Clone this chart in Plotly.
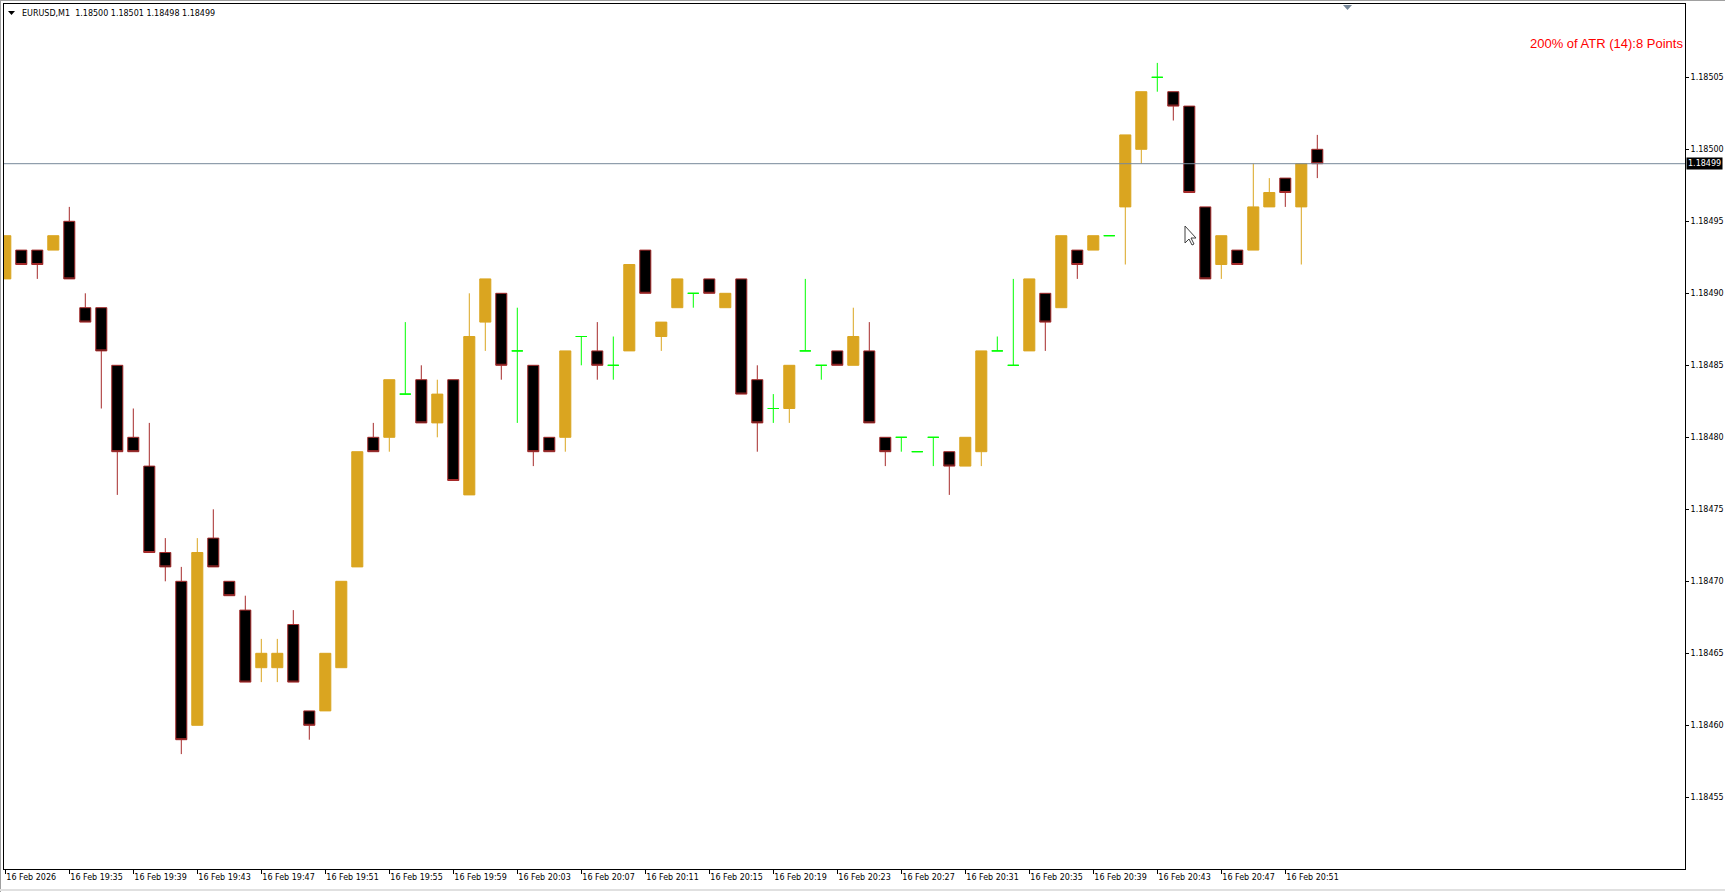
import plotly.graph_objects as go

# ---------------- data (EURUSD M1, 16 Feb 2026 19:31 .. 20:53) ----------------
opens = [1.18491, 1.18493, 1.18493, 1.18493, 1.18495, 1.18489, 1.18489, 1.18485, 1.18480, 1.18478,
         1.18472, 1.18470, 1.18460, 1.18473, 1.18470, 1.18468, 1.18464, 1.18464, 1.18467, 1.18461,
         1.18461, 1.18464, 1.18471, 1.18480, 1.18480, 1.18483, 1.18484, 1.18481, 1.18484, 1.18476,
         1.18488, 1.18490, 1.18486, 1.18485, 1.18480, 1.18480, 1.18487, 1.18486, 1.18485, 1.18486,
         1.18493, 1.18487, 1.18489, 1.18490, 1.18491, 1.18489, 1.18491, 1.18484, 1.18482, 1.18482,
         1.18486, 1.18485, 1.18486, 1.18485, 1.18486, 1.18480, 1.18480, 1.18479, 1.18480, 1.18479,
         1.18478, 1.18479, 1.18486, 1.18485, 1.18486, 1.18490, 1.18489, 1.18493, 1.18493, 1.18494,
         1.18496, 1.18500, 1.18505, 1.18504, 1.18503, 1.18496, 1.18492, 1.18493, 1.18493, 1.18496,
         1.18498, 1.18496, 1.18500]
highs = [1.18494, 1.18493, 1.18493, 1.18494, 1.18496, 1.18490, 1.18489, 1.18485, 1.18482, 1.18481,
         1.18473, 1.18471, 1.18473, 1.18475, 1.18470, 1.18469, 1.18466, 1.18466, 1.18468, 1.18461,
         1.18465, 1.18470, 1.18479, 1.18481, 1.18484, 1.18488, 1.18485, 1.18484, 1.18484, 1.18490,
         1.18491, 1.18490, 1.18489, 1.18485, 1.18480, 1.18486, 1.18487, 1.18488, 1.18487, 1.18492,
         1.18493, 1.18488, 1.18491, 1.18490, 1.18491, 1.18490, 1.18491, 1.18485, 1.18483, 1.18485,
         1.18491, 1.18485, 1.18486, 1.18489, 1.18488, 1.18480, 1.18480, 1.18479, 1.18480, 1.18479,
         1.18480, 1.18486, 1.18487, 1.18491, 1.18491, 1.18490, 1.18494, 1.18493, 1.18494, 1.18494,
         1.18501, 1.18504, 1.18506, 1.18504, 1.18503, 1.18496, 1.18494, 1.18493, 1.18499, 1.18498,
         1.18498, 1.18499, 1.18501]
lows = [1.18491, 1.18492, 1.18491, 1.18493, 1.18491, 1.18488, 1.18482, 1.18476, 1.18479, 1.18472,
        1.18470, 1.18458, 1.18460, 1.18471, 1.18469, 1.18463, 1.18463, 1.18463, 1.18463, 1.18459,
        1.18461, 1.18464, 1.18471, 1.18479, 1.18479, 1.18483, 1.18481, 1.18480, 1.18477, 1.18476,
        1.18486, 1.18484, 1.18481, 1.18478, 1.18479, 1.18479, 1.18485, 1.18484, 1.18484, 1.18486,
        1.18490, 1.18486, 1.18489, 1.18489, 1.18490, 1.18489, 1.18483, 1.18479, 1.18481, 1.18481,
        1.18486, 1.18484, 1.18485, 1.18485, 1.18481, 1.18478, 1.18479, 1.18479, 1.18478, 1.18476,
        1.18478, 1.18478, 1.18486, 1.18485, 1.18486, 1.18486, 1.18489, 1.18491, 1.18493, 1.18494,
        1.18492, 1.18499, 1.18504, 1.18502, 1.18497, 1.18491, 1.18491, 1.18492, 1.18493, 1.18496,
        1.18496, 1.18492, 1.18498]
closes = [1.18494, 1.18492, 1.18492, 1.18494, 1.18491, 1.18488, 1.18486, 1.18479, 1.18479, 1.18472,
          1.18471, 1.18459, 1.18472, 1.18471, 1.18469, 1.18463, 1.18465, 1.18465, 1.18463, 1.18460,
          1.18465, 1.18470, 1.18479, 1.18479, 1.18484, 1.18483, 1.18481, 1.18483, 1.18477, 1.18487,
          1.18491, 1.18485, 1.18486, 1.18479, 1.18479, 1.18486, 1.18487, 1.18485, 1.18485, 1.18492,
          1.18490, 1.18488, 1.18491, 1.18490, 1.18490, 1.18490, 1.18483, 1.18481, 1.18482, 1.18485,
          1.18486, 1.18485, 1.18485, 1.18487, 1.18481, 1.18479, 1.18480, 1.18479, 1.18480, 1.18478,
          1.18480, 1.18486, 1.18486, 1.18485, 1.18491, 1.18488, 1.18494, 1.18492, 1.18494, 1.18494,
          1.18501, 1.18504, 1.18505, 1.18503, 1.18497, 1.18491, 1.18494, 1.18492, 1.18496, 1.18497,
          1.18497, 1.18499, 1.18499]

tick_labels = ["16 Feb 2026", "16 Feb 19:35", "16 Feb 19:39", "16 Feb 19:43", "16 Feb 19:47",
               "16 Feb 19:51", "16 Feb 19:55", "16 Feb 19:59", "16 Feb 20:03", "16 Feb 20:07",
               "16 Feb 20:11", "16 Feb 20:15", "16 Feb 20:19", "16 Feb 20:23", "16 Feb 20:27",
               "16 Feb 20:31", "16 Feb 20:35", "16 Feb 20:39", "16 Feb 20:43", "16 Feb 20:47",
               "16 Feb 20:51"]
tick_step = 4
price_ticks = [1.18455, 1.18460, 1.18465, 1.18470, 1.18475, 1.18480,
               1.18485, 1.18490, 1.18495, 1.18500, 1.18505]
symbol = "EURUSD,M1"
atr_text = "200% of ATR (14):8 Points"

# ---------------- styling ----------------
GOLD = "#DAA520"
BEAR_LINE = "#A52A2A"
DOJI = "#00FF00"
PRICE_LINE = "#778899"
FONT = "DejaVu Sans"

W, H = 1725, 892
ML, MR, MT, MB = 4, 40, 4, 23
PW, PH = W - ML - MR, H - MT - MB
BAR_PX = 16.0       # pixel spacing of one bar
X0_PX = 5.3         # pixel position of the first bar
REF_PRICE, REF_PX, PX_PER_POINT = 1.18500, 149.3, 14.4


def px(x):
    return (x - ML) / PW


def py(y):
    return (MT + PH - y) / PH


def price_at(ypix):
    return REF_PRICE - (ypix - REF_PX) / PX_PER_POINT * 1e-5


idx = list(range(len(opens)))


def subset(cond):
    sel = [i for i in idx if cond(opens[i], closes[i])]
    return (sel, [opens[i] for i in sel], [highs[i] for i in sel],
            [lows[i] for i in sel], [closes[i] for i in sel])


fig = go.Figure()


def add_candles(cond, fill, line):
    x, o, h, l, c = subset(cond)
    fig.add_trace(go.Candlestick(
        x=x, open=o, high=h, low=l, close=c,
        increasing=dict(fillcolor=fill, line=dict(color=line, width=1)),
        decreasing=dict(fillcolor=fill, line=dict(color=line, width=1)),
        whiskerwidth=0, hoverinfo="skip", showlegend=False))


add_candles(lambda o, c: c > o, GOLD, GOLD)
add_candles(lambda o, c: c < o, "#000000", BEAR_LINE)
add_candles(lambda o, c: c == o, DOJI, DOJI)

last_close = closes[-1]

shapes = [
    # current price line
    dict(type="line", xref="paper", yref="y", x0=0, x1=1, y0=last_close, y1=last_close,
         line=dict(color=PRICE_LINE, width=1)),
    # window frame lines
    dict(type="line", xref="paper", yref="paper", x0=px(0.5), x1=px(0.5), y0=py(0), y1=py(892),
         line=dict(color="#a0a0a0", width=1)),
    dict(type="line", xref="paper", yref="paper", x0=px(0), x1=px(1725), y0=py(0.5), y1=py(0.5),
         line=dict(color="#a0a0a0", width=1)),
    dict(type="line", xref="paper", yref="paper", x0=px(0), x1=px(1725), y0=py(890), y1=py(890),
         line=dict(color="#e0e0e0", width=2)),
    # title triangle
    dict(type="path", xref="paper", yref="paper",
         path=f"M {px(8)},{py(11)} L {px(15)},{py(11)} L {px(11.5)},{py(15)} Z",
         fillcolor="#000000", line=dict(width=0)),
    # chart shift marker at top
    dict(type="path", xref="paper", yref="paper",
         path=f"M {px(1343)},{py(5)} L {px(1352)},{py(5)} L {px(1347.5)},{py(10)} Z",
         fillcolor=PRICE_LINE, line=dict(width=0)),
]

# mouse cursor arrow
cx, cy = 1185, 226
cur = [(0, 0), (0, 17), (4, 13), (7, 19), (9, 18), (6, 12), (11, 12)]
path = "M " + " L ".join(f"{px(cx + a)},{py(cy + b)}" for a, b in cur) + " Z"
shapes.append(dict(type="path", xref="paper", yref="paper", path=path,
                   fillcolor="#ffffff", line=dict(color="#404040", width=1)))

title_text = (f"{symbol}\u00a0 {opens[-1]:.5f} {highs[-1]:.5f} "
              f"{lows[-1]:.5f} {closes[-1]:.5f}")

annotations = [
    dict(text=title_text, xref="paper", yref="paper", x=px(20), y=py(13.5),
         xanchor="left", yanchor="middle", showarrow=False,
         font=dict(family=FONT, size=8, color="#000000")),
    dict(text=atr_text, xref="paper", yref="paper", x=px(1685), y=py(43.5),
         xanchor="right", yanchor="middle", showarrow=False,
         font=dict(family="Liberation Sans", size=13, color="#FF0000")),
    dict(text=f"{last_close:.5f}", xref="paper", yref="y", x=px(1686), y=last_close,
         xanchor="left", yanchor="middle", showarrow=False, bgcolor="#000000", borderpad=1,
         font=dict(family=FONT, size=8, color="#ffffff")),
]

fig.update_layout(
    template="none",
    width=W, height=H,
    margin=dict(l=ML, r=MR, t=MT, b=MB, pad=0, autoexpand=False),
    paper_bgcolor="#ffffff", plot_bgcolor="#ffffff",
    boxgap=0.31, boxgroupgap=0,
    showlegend=False,
    shapes=shapes, annotations=annotations,
    xaxis=dict(
        automargin=False,
        range=[(ML - X0_PX) / BAR_PX, (ML + PW - X0_PX) / BAR_PX],
        tickmode="array",
        tickvals=[i * tick_step for i in range(len(tick_labels))],
        ticktext=tick_labels,
        ticks="outside", ticklen=4, tickcolor="#000000", tickwidth=1,
        ticklabelposition="outside right",
        tickfont=dict(family=FONT, size=8, color="#000000"),
        showgrid=False, zeroline=False,
        showline=True, linecolor="#000000", linewidth=1, mirror=True,
        rangeslider=dict(visible=False), fixedrange=True,
    ),
    yaxis=dict(
        automargin=False,
        side="right",
        range=[price_at(MT + PH), price_at(MT)],
        tickmode="array",
        tickvals=price_ticks,
        ticktext=[f"{v:.5f}" for v in price_ticks],
        ticks="outside", ticklen=3, tickcolor="#000000", tickwidth=1,
        tickfont=dict(family=FONT, size=8, color="#000000"),
        showgrid=False, zeroline=False,
        showline=True, linecolor="#000000", linewidth=1, mirror=True,
        fixedrange=True,
    ),
)

fig.write_html(
    "out.html",
    config={"displayModeBar": False},
    post_script="document.body.style.margin='0';document.body.style.overflow='hidden';",
)
